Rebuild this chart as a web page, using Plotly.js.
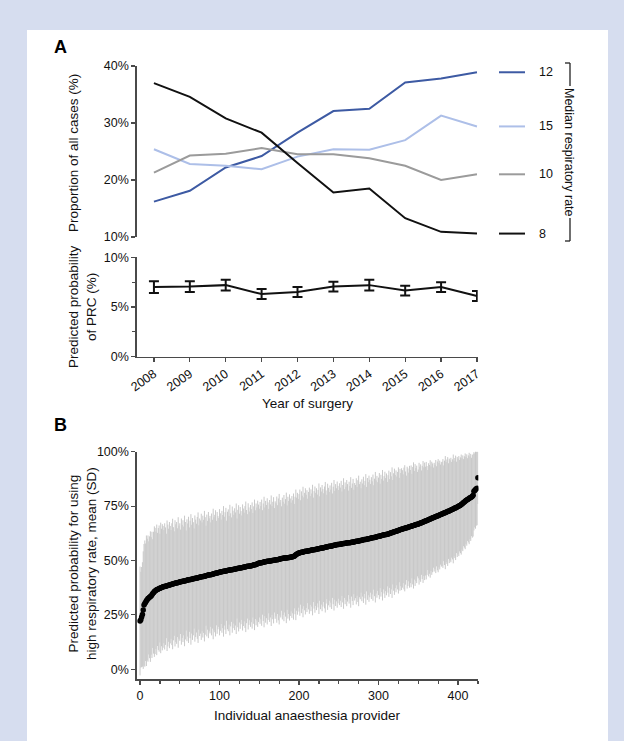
<!DOCTYPE html>
<html>
<head>
<meta charset="utf-8">
<script src="https://cdn.plot.ly/plotly-3.0.1.min.js"></script>
<style>html,body{margin:0;padding:0;background:#d6ddef;}#chart{width:624px;height:741px;}</style>
</head>
<body>
<div id="chart"></div>
<script>
// ---------- Panel A data ----------
const years = [2008, 2009, 2010, 2011, 2012, 2013, 2014, 2015, 2016, 2017];
const rate12 = [0.162, 0.181, 0.222, 0.242, 0.283, 0.321, 0.325, 0.371, 0.378, 0.389];
const rate15 = [0.254, 0.228, 0.225, 0.219, 0.241, 0.254, 0.253, 0.270, 0.313, 0.294];
const rate10 = [0.213, 0.243, 0.246, 0.256, 0.245, 0.245, 0.238, 0.225, 0.200, 0.210];
const rate8  = [0.370, 0.346, 0.308, 0.283, 0.230, 0.178, 0.185, 0.133, 0.109, 0.106];
const seriesNames = ['12', '15', '10', '8'];
const prc    = [0.070, 0.0705, 0.072, 0.063, 0.065, 0.0705, 0.072, 0.0665, 0.070, 0.061];
const prcErr = [0.006, 0.0055, 0.0055, 0.005, 0.005, 0.005, 0.0055, 0.005, 0.005, 0.005];

// ---------- Panel B data (providers sorted by mean) ----------
const providerMean = [
.222,.228,.240,.252,.272,.296,.302,.308,.315,.320,
.325,.328,.331,.334,.337,.342,.348,.352,.357,.360,
.363,.365,.367,.369,.371,.373,.374,.376,.377,.379,
.380,.381,.382,.383,.384,.385,.386,.387,.389,.390,
.391,.392,.393,.394,.395,.396,.397,.398,.399,.400,
.401,.402,.403,.404,.405,.406,.406,.407,.408,.409,
.410,.411,.412,.413,.413,.414,.415,.416,.417,.417,
.418,.419,.420,.421,.422,.423,.424,.425,.425,.426,
.427,.428,.429,.430,.431,.432,.433,.434,.435,.435,
.436,.437,.438,.439,.440,.441,.442,.443,.444,.445,
.446,.447,.448,.448,.449,.450,.451,.452,.452,.453,
.454,.455,.455,.456,.457,.458,.458,.459,.460,.460,
.461,.462,.463,.463,.464,.465,.466,.467,.467,.468,
.469,.470,.470,.471,.472,.473,.473,.474,.475,.475,
.476,.477,.478,.479,.480,.481,.482,.484,.485,.487,
.488,.489,.490,.490,.491,.492,.493,.494,.494,.495,
.496,.497,.497,.498,.498,.499,.500,.500,.501,.501,
.502,.503,.504,.504,.505,.506,.507,.508,.509,.509,
.510,.511,.511,.512,.512,.513,.513,.514,.514,.515,
.516,.516,.517,.518,.520,.523,.526,.529,.531,.533,
.535,.536,.537,.538,.538,.539,.540,.541,.542,.542,
.543,.544,.545,.545,.546,.547,.548,.548,.549,.549,
.550,.551,.552,.553,.554,.554,.555,.556,.557,.557,
.558,.559,.560,.561,.562,.562,.563,.564,.565,.565,
.566,.567,.568,.569,.570,.570,.571,.572,.573,.573,
.574,.575,.575,.576,.577,.577,.578,.578,.579,.579,
.580,.581,.581,.582,.582,.583,.584,.584,.585,.585,
.586,.587,.588,.588,.589,.590,.591,.592,.592,.593,
.594,.595,.596,.596,.597,.598,.599,.600,.600,.601,
.602,.603,.604,.605,.606,.606,.607,.608,.609,.610,
.611,.612,.613,.614,.615,.616,.617,.618,.618,.619,
.620,.621,.622,.623,.624,.626,.627,.628,.630,.631,
.632,.633,.634,.636,.637,.638,.640,.641,.642,.644,
.645,.646,.647,.648,.649,.650,.651,.653,.654,.655,
.656,.657,.658,.660,.661,.662,.663,.665,.666,.667,
.668,.669,.671,.672,.674,.675,.677,.678,.680,.681,
.683,.684,.686,.687,.689,.691,.692,.694,.696,.697,
.699,.700,.702,.703,.705,.706,.708,.709,.711,.712,
.714,.716,.717,.719,.720,.722,.724,.725,.727,.728,
.730,.732,.733,.735,.737,.739,.741,.742,.744,.746,
.748,.750,.752,.754,.757,.760,.763,.766,.769,.772,
.776,.778,.780,.783,.785,.788,.790,.792,.795,.800,
.818,.822,.826,.830,.832,.880];
const providerSD = [
.25,.22,.23,.24,.27,.28,.29,.27,.30,.28,
.29,.26,.28,.30,.27,.29,.25,.28,.30,.29,
.27,.30,.26,.28,.29,.25,.30,.27,.29,.28,
.26,.29,.27,.24,.30,.28,.26,.29,.27,.25,
.28,.30,.26,.24,.29,.27,.28,.25,.30,.26,
.27,.24,.29,.26,.28,.25,.30,.27,.23,.28,
.26,.29,.24,.27,.30,.25,.28,.26,.23,.29,
.27,.25,.28,.30,.24,.27,.26,.29,.25,.28,
.26,.30,.27,.23,.28,.25,.29,.26,.27,.24,
.28,.25,.30,.26,.27,.29,.24,.28,.26,.25,
.29,.27,.24,.28,.26,.30,.25,.27,.29,.23,
.27,.28,.25,.30,.26,.24,.29,.27,.25,.28,
.26,.30,.23,.27,.29,.25,.28,.26,.24,.29,
.27,.25,.28,.30,.26,.24,.29,.27,.25,.28,
.26,.29,.24,.27,.30,.25,.28,.26,.29,.27,
.25,.28,.26,.29,.24,.27,.30,.25,.28,.26,
.29,.27,.24,.28,.26,.30,.25,.27,.29,.24,
.27,.26,.29,.25,.28,.30,.26,.27,.24,.28,
.26,.29,.25,.27,.30,.24,.28,.26,.29,.27,
.25,.28,.26,.29,.24,.27,.30,.26,.28,.25,
.27,.29,.24,.28,.26,.30,.25,.27,.29,.26,
.28,.24,.27,.29,.25,.28,.26,.30,.24,.27,
.29,.26,.28,.25,.27,.30,.24,.28,.26,.29,
.27,.25,.28,.30,.26,.24,.29,.27,.25,.28,
.26,.29,.24,.27,.30,.25,.28,.26,.29,.27,
.25,.28,.26,.29,.24,.27,.30,.25,.28,.26,
.29,.27,.24,.28,.26,.30,.25,.27,.29,.24,
.27,.26,.29,.25,.28,.30,.26,.27,.24,.28,
.26,.29,.25,.27,.30,.24,.28,.26,.29,.27,
.25,.28,.26,.29,.24,.27,.30,.26,.28,.25,
.27,.29,.24,.28,.26,.30,.25,.27,.29,.26,
.28,.24,.27,.29,.25,.28,.26,.30,.24,.27,
.29,.26,.28,.25,.27,.29,.24,.28,.26,.28,
.27,.25,.28,.29,.26,.24,.28,.27,.25,.28,
.26,.28,.24,.27,.29,.25,.28,.26,.27,.24,
.25,.28,.26,.27,.24,.26,.28,.25,.27,.25,
.27,.25,.23,.26,.25,.27,.24,.26,.25,.23,
.25,.24,.26,.23,.25,.26,.24,.25,.23,.24,
.24,.25,.22,.24,.26,.23,.24,.25,.22,.24,
.23,.24,.22,.23,.25,.22,.23,.24,.21,.23,
.22,.23,.21,.22,.23,.21,.22,.20,.21,.22,
.20,.21,.19,.20,.21,.19,.20,.18,.19,.19,
.18,.17,.18,.17,.17,.12];
const providerIdx = providerMean.map((_, i) => i);

// ---------- styling ----------
const W = 624, H = 741;
const px = v => v / W;
const py = v => 1 - v / H;
const FONT = 'Liberation Sans, Arial, sans-serif';
const TXT = '#111111';
const AX = '#4a4a4a';
const colors = ['#3d5aa3', '#adbfe8', '#9b9b9b', '#111111'];
const seriesA = [rate12, rate15, rate10, rate8];

const traces = [];
seriesA.forEach((s, k) => {
  traces.push({x: years, y: s, type: 'scatter', mode: 'lines', name: seriesNames[k],
    xaxis: 'x', yaxis: 'y', line: {color: colors[k], width: 2}, hoverinfo: 'skip'});
});
traces.push({x: years, y: prc, type: 'scatter', mode: 'lines', xaxis: 'x2', yaxis: 'y2',
  line: {color: '#111', width: 2},
  error_y: {type: 'data', array: prcErr, visible: true, color: '#111', thickness: 2, width: 5}});
traces.push({x: providerIdx, y: providerMean, type: 'scatter', mode: 'markers', xaxis: 'x3', yaxis: 'y3',
  marker: {size: 1, color: 'rgba(0,0,0,0)'},
  error_y: {type: 'data', array: providerSD, visible: true, color: '#c9c9c9', thickness: 1, width: 0}});
traces.push({x: providerIdx, y: providerMean, type: 'scatter', mode: 'markers', xaxis: 'x3', yaxis: 'y3',
  marker: {size: 5.5, color: '#000'}});

const xDomA = [px(136.7), px(477.7)];
const axBase = {showline: true, linecolor: AX, linewidth: 1.3, ticks: 'outside', ticklen: 4,
  tickcolor: AX, tickwidth: 1.2, showgrid: false, zeroline: false,
  tickfont: {family: FONT, size: 12.5, color: TXT}, fixedrange: true};

function label(text, x, y, size, angle, extra) {
  return Object.assign({text: text, xref: 'paper', yref: 'paper', x: px(x), y: py(y),
    xanchor: 'center', yanchor: 'middle', textangle: angle || 0, showarrow: false,
    font: {size: size, family: FONT, color: TXT}}, extra || {});
}

function seg(x0, y0, x1, y1) {
  return {type: 'line', xref: 'paper', yref: 'paper', x0: px(x0), x1: px(x1), y0: py(y0), y1: py(y1),
    line: {color: '#222', width: 1.3}};
}

const layout = {
  width: W, height: H,
  margin: {l: 0, r: 0, t: 0, b: 0},
  paper_bgcolor: '#d6ddef', plot_bgcolor: 'rgba(0,0,0,0)',
  showlegend: false,
  font: {family: FONT, color: TXT},
  xaxis: {domain: xDomA, range: [2007.52, 2017.02], visible: false, anchor: 'y', fixedrange: true},
  yaxis: Object.assign({}, axBase, {domain: [py(237), py(66)], range: [0.10, 0.40], dtick: 0.1,
    tickformat: '.0%', anchor: 'x'}),
  xaxis2: Object.assign({}, axBase, {domain: xDomA, range: [2007.52, 2017.02], tickmode: 'array',
    tickvals: years, ticktext: years.map(String), tickangle: -35, anchor: 'y2'}),
  yaxis2: Object.assign({}, axBase, {domain: [py(356.7), py(257.3)], range: [0, 0.10], dtick: 0.05,
    tickformat: '.0%', anchor: 'x2', minor: {dtick: 0.025, ticks: 'outside', ticklen: 3, tickcolor: AX}}),
  xaxis3: Object.assign({}, axBase, {domain: [px(136.7), px(478.3)], range: [-4.2, 425.5], dtick: 100,
    anchor: 'y3', minor: {dtick: 25, ticks: 'outside', ticklen: 3, tickcolor: AX}}),
  yaxis3: Object.assign({}, axBase, {domain: [py(679.3), py(451.7)], range: [-0.046, 1.0], dtick: 0.25,
    tickformat: '.0%', anchor: 'x3'}),
  shapes: [
    {type: 'rect', xref: 'paper', yref: 'paper', x0: px(27), x1: px(608), y0: 0, y1: py(30),
     fillcolor: '#ffffff', line: {width: 0}, layer: 'below'},
    seg(570, 63, 570, 86),
    seg(570, 218, 570, 241),
    seg(565, 63, 570, 63),
    seg(565, 241, 570, 241)
  ],
  annotations: [
    label('<b>A</b>', 60, 47, 18, 0, {font: {size: 18, family: FONT, color: '#000'}}),
    label('<b>B</b>', 60, 425, 18, 0, {font: {size: 18, family: FONT, color: '#000'}}),
    label('Proportion of all cases (%)', 73, 153, 13.5, -90),
    label('Predicted probability<br>of PRC (%)', 82, 307, 13.5, -90),
    label('Year of surgery', 307, 403, 13.5, 0),
    label('Predicted probability for using<br>high respiratory rate, mean (SD)', 82, 564, 13.5, -90),
    label('Individual anaesthesia provider', 307, 715, 13.5, 0),
    label('Median respiratory rate', 569, 152, 12.5, 90)
  ]
};

// Legend entries aligned with the 2017 end value of each series
seriesA.forEach((s, k) => {
  const yEnd = s[s.length - 1];
  layout.shapes.push({type: 'line', xref: 'paper', yref: 'y', x0: px(499), x1: px(525), y0: yEnd, y1: yEnd,
    line: {color: colors[k], width: 2}});
  layout.annotations.push({text: seriesNames[k], xref: 'paper', yref: 'y', x: px(537), y: yEnd,
    xanchor: 'left', yanchor: 'middle', showarrow: false, font: {size: 12.5, family: FONT, color: TXT}});
});

Plotly.newPlot('chart', traces, layout, {staticPlot: true, displayModeBar: false});
</script>
</body>
</html>
